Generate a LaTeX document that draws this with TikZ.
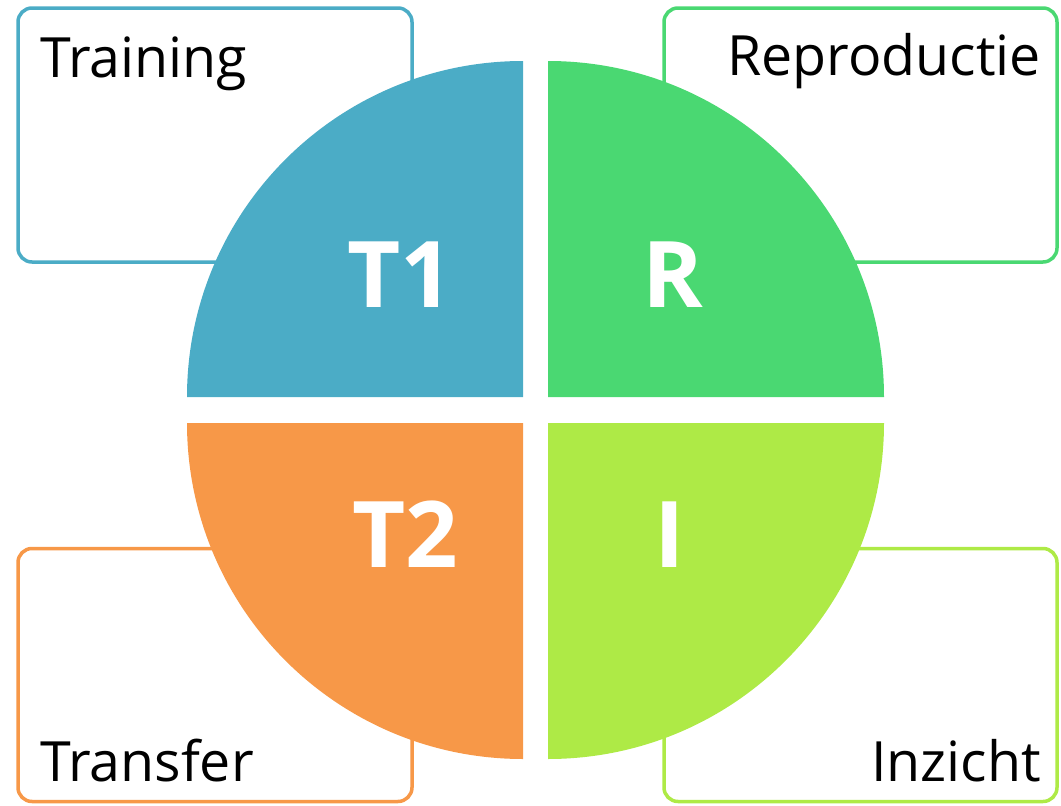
\documentclass[tikz,border=0pt]{standalone}
\usepackage{fontspec}
\setmainfont{Open Sans}

\definecolor{tblue}{HTML}{4BACC6}
\definecolor{rgreen}{HTML}{4AD872}
\definecolor{ilime}{HTML}{AEEA46}
\definecolor{torange}{HTML}{F79848}

\tikzstyle{qbox}=[draw, line width=3.5pt, rounded corners=14pt, fill=white, inner sep=0pt]
\tikzstyle{qlabel}=[inner sep=0pt, font=\fontsize{55.5}{60}\selectfont]
\tikzstyle{qletter}=[inner sep=0pt, anchor=base, text=white, font=\fontsize{92}{100}\selectfont\bfseries]

\begin{document}
\begin{tikzpicture}[x=1pt,y=-1pt]
\useasboundingbox (0,0) rectangle (1061,806);

\node[qbox, draw=tblue, minimum width=394pt, minimum height=254pt] (b1) at (215,135) {};
\node[qbox, draw=rgreen, minimum width=393pt, minimum height=254pt] (b2) at (860.5,135) {};
\node[qbox, draw=torange, minimum width=394pt, minimum height=253pt] (b3) at (215,675) {};
\node[qbox, draw=ilime, minimum width=393pt, minimum height=253pt] (b4) at (860.5,675) {};

\fill[tblue] (523,397) -- (187,397) arc[start angle=180, end angle=270, radius=336] -- cycle;
\fill[rgreen] (548,397) -- (548,61) arc[start angle=270, end angle=360, radius=336] -- cycle;
\fill[ilime] (548,423) -- (884,423) arc[start angle=0, end angle=90, radius=336] -- cycle;
\fill[torange] (523,423) -- (523,759) arc[start angle=90, end angle=180, radius=336] -- cycle;

\node[qlabel, anchor=base west] (l1) at (40,77) {Training};
\node[qlabel, anchor=base east] (l2) at (1041,75) {Reproductie};
\node[qlabel, anchor=base west] (l3) at (40,781) {Transfer};
\node[qlabel, anchor=base east] (l4) at (1041,781) {Inzicht};

\node[qletter] (q1) at (400,307) {T1};
\node[qletter] (q2) at (673,307) {R};
\node[qletter] (q3) at (405,567) {T2};
\node[qletter] (q4) at (670,567) {I};
\end{tikzpicture}
\end{document}
